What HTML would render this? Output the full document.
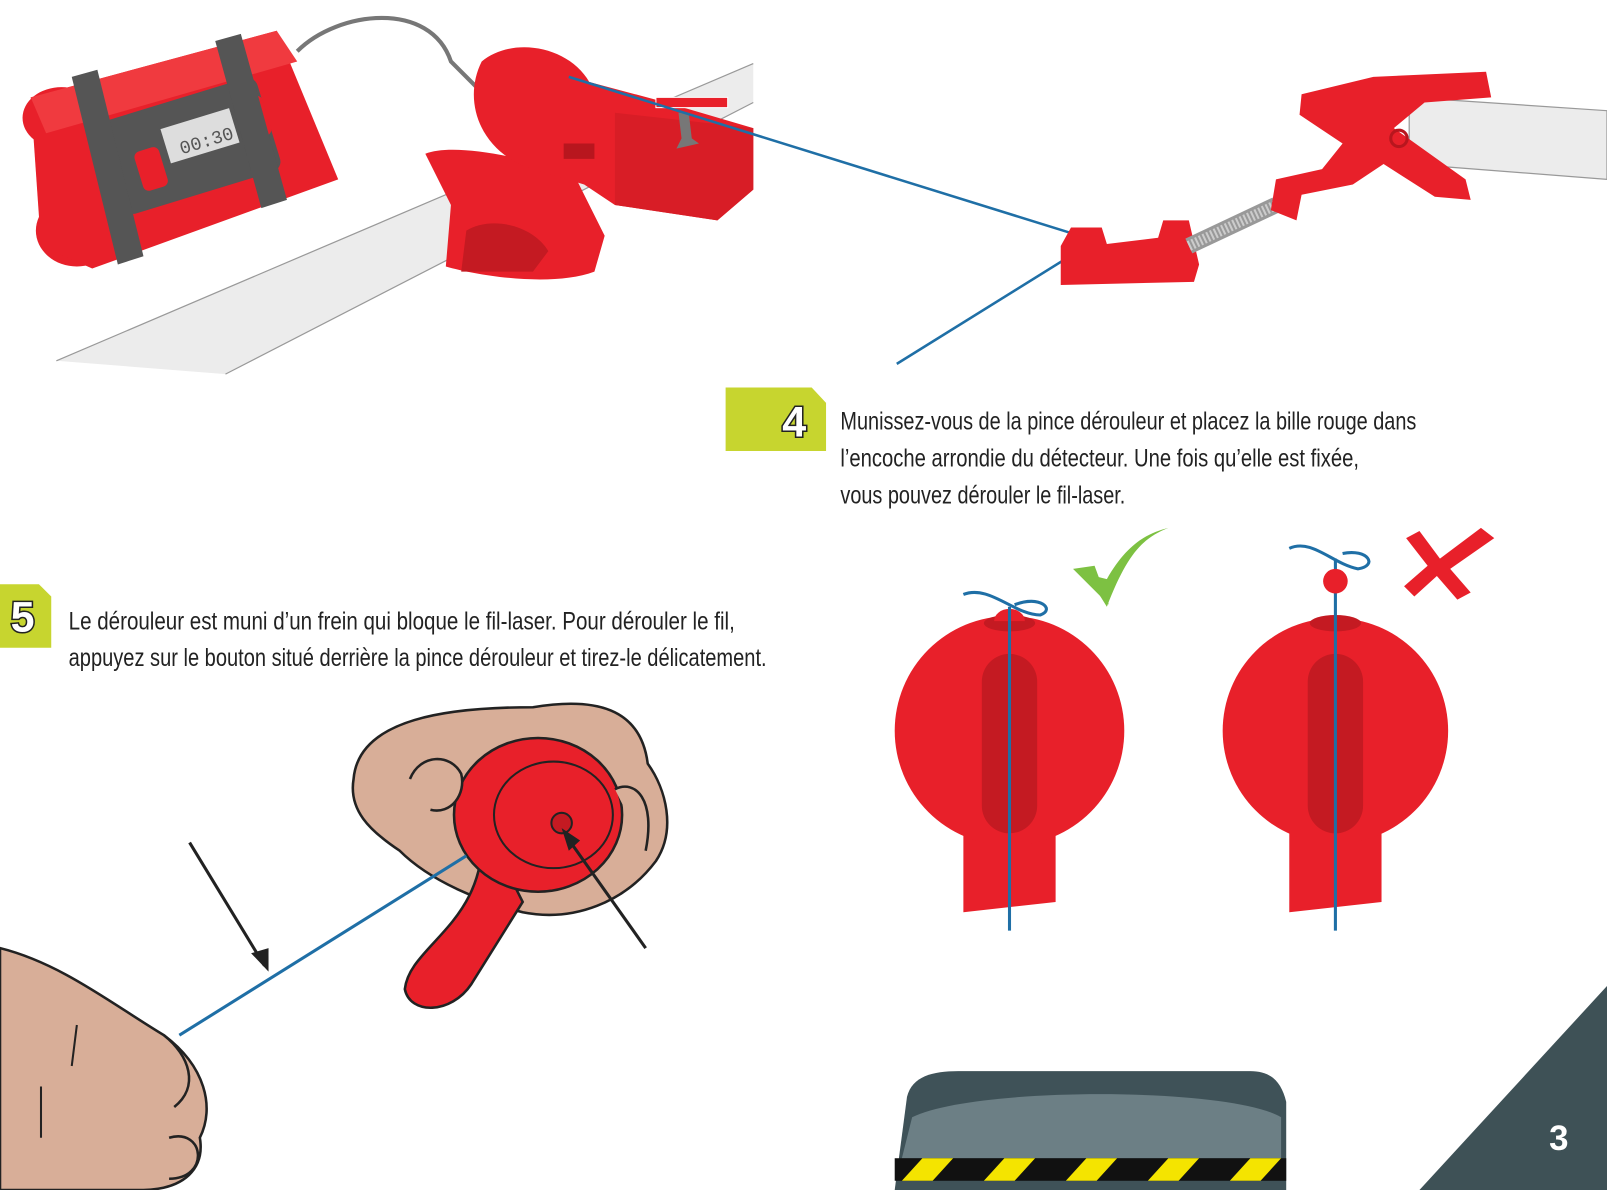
<!DOCTYPE html>
<html><head><meta charset="utf-8"><style>
html,body{margin:0;padding:0;background:#fff;width:1607px;height:1190px;overflow:hidden}
svg{display:block}
.t{font-family:"Liberation Sans",sans-serif;font-size:24px;fill:#222}
</style></head><body>
<svg width="1607" height="1190" viewBox="0 0 1568 1161" preserveAspectRatio="none" xmlns="http://www.w3.org/2000/svg">
<rect width="1568" height="1161" fill="#fff"/>
<!-- bar top-left -->
<polygon points="55,352 735,62 735,100 220,365" fill="#ececec"/>
<line x1="55" y1="352" x2="735" y2="62" stroke="#999" stroke-width="1.2"/>
<line x1="220" y1="365" x2="735" y2="100" stroke="#999" stroke-width="1.2"/>
<!-- gray wire -->
<path d="M290,50 C330,10 420,0 440,60 L465,85" fill="none" stroke="#777" stroke-width="4"/>
<!-- dynamite -->
<g>
<ellipse cx="60" cy="115" rx="38" ry="30" fill="#e8202a"/>
<ellipse cx="80" cy="175" rx="38" ry="30" fill="#e8202a"/>
<ellipse cx="75" cy="225" rx="40" ry="35" fill="#e8202a"/>
<polygon points="30,95 270,30 330,175 90,262 40,240" fill="#e8202a"/>
<polygon points="30,95 270,30 290,60 45,130" fill="#f03a3f"/>
<rect x="105" y="95" width="160" height="95" rx="10" fill="#555" transform="rotate(-17 185 140)"/>
<rect x="160" y="115" width="70" height="35" fill="#ddd" transform="rotate(-17 195 132)"/>
<text x="175" y="145" font-family="Liberation Mono,monospace" font-size="18" fill="#555" transform="rotate(-17 195 140)">00:30</text>
<rect x="135" y="145" width="25" height="40" rx="6" fill="#e8202a" transform="rotate(-17 147 165)"/>
<rect x="236" y="95" width="25" height="40" rx="6" fill="#e8202a" transform="rotate(-17 248 115)"/>
<polygon points="70,75 95,68 140,250 115,258" fill="#555"/>
<polygon points="210,40 235,33 280,195 255,203" fill="#555"/>
</g>
<!-- detector & clip -->
<path d="M415,150 C440,140 500,150 560,170 L590,230 L580,265 C540,280 470,270 435,260 L440,200 Z" fill="#e8202a"/>
<path d="M455,225 C480,210 520,220 535,245 L520,265 L450,265 Z" fill="#c41a22"/>
<circle cx="482" cy="230" r="12" fill="#c41a22"/>
<path d="M470,60 C500,35 555,45 575,80 L650,100 L735,125 L735,185 L700,215 L600,200 L570,180 L520,165 C470,150 450,100 470,60 Z" fill="#e8202a"/>
<path d="M600,110 L735,125 L735,185 L700,215 L600,200 Z" fill="#d81d26"/>
<rect x="640" y="95" width="70" height="10" fill="#e8202a" stroke="#fff" stroke-width="1"/>
<path d="M662,110 L672,110 L675,135 L682,140 L660,145 L665,135 Z" fill="#777"/>
<rect x="550" y="140" width="30" height="15" fill="#b8161e"/>
<!-- blue wires -->
<line x1="555" y1="75" x2="1060" y2="232" stroke="#1f6fa6" stroke-width="2.5"/>
<line x1="875" y1="355" x2="1060" y2="240" stroke="#1f6fa6" stroke-width="2.5"/>
<!-- right clamp + bar -->
<polygon points="1375,95 1568,108 1568,175 1375,160" fill="#ececec" stroke="#999" stroke-width="1.2"/>
<path d="M1035,240 L1045,222 L1075,222 L1080,238 L1130,232 L1135,215 L1160,215 L1170,258 L1165,275 L1035,278 Z" fill="#e8202a"/>
<path d="M1160,240 L1245,200" stroke="#999" stroke-width="16"/>
<path d="M1160,240 L1245,200" stroke="#ccc" stroke-width="10" stroke-dasharray="2 2"/>
<path d="M1240,205 L1245,175 L1290,165 L1310,140 L1268,112 L1270,92 L1340,75 L1450,70 L1455,95 L1390,100 L1360,125 L1430,175 L1435,195 L1400,192 L1350,160 L1320,180 L1270,190 L1265,215 Z" fill="#e8202a"/>
<circle cx="1365" cy="135" r="8" fill="none" stroke="#b8161e" stroke-width="3"/>
<!-- step 4 -->
<polygon points="708,378 792,378 806,393 806,440 708,440" fill="#c7d52f"/>
<text x="775" y="426" text-anchor="middle" font-family="Liberation Sans,sans-serif" font-weight="bold" font-size="42" fill="#fff" stroke="#222" stroke-width="3" paint-order="stroke">4</text>
<text class="t" x="820" y="419" textLength="562" lengthAdjust="spacingAndGlyphs">Munissez-vous de la pince dérouleur et placez la bille rouge dans</text>
<text class="t" x="820" y="455" textLength="506" lengthAdjust="spacingAndGlyphs">l’encoche arrondie du détecteur. Une fois qu’elle est fixée,</text>
<text class="t" x="820" y="491" textLength="278" lengthAdjust="spacingAndGlyphs">vous pouvez dérouler le fil-laser.</text>
<!-- step 5 -->
<polygon points="0,570 38,570 50,582 50,632 0,632" fill="#c7d52f"/>
<text x="22" y="616" text-anchor="middle" font-family="Liberation Sans,sans-serif" font-weight="bold" font-size="42" fill="#fff" stroke="#222" stroke-width="3" paint-order="stroke">5</text>
<text class="t" x="67" y="614" textLength="650" lengthAdjust="spacingAndGlyphs">Le dérouleur est muni d’un frein qui bloque le fil-laser. Pour dérouler le fil,</text>
<text class="t" x="67" y="650" textLength="681" lengthAdjust="spacingAndGlyphs">appuyez sur le bouton situé derrière la pince dérouleur et tirez-le délicatement.</text>
<!-- balloons -->
<g>
<path d="M940,810 L940,890 L1030,880 L1030,810 Z" fill="#e8202a"/>
<circle cx="985" cy="713" r="112" fill="#e8202a"/>
<ellipse cx="985" cy="608" rx="25" ry="8" fill="#c41a22"/>
<rect x="958" y="638" width="54" height="175" rx="27" fill="#c41a22"/>
<path d="M970,606 A15,12 0 0 1 1000,606 Z" fill="#e8202a"/>
<line x1="985" y1="592" x2="985" y2="908" stroke="#1f6fa6" stroke-width="3"/>
<path d="M940,580 C965,570 990,600 1015,600 C1030,595 1015,580 990,590" fill="none" stroke="#1f6fa6" stroke-width="3"/>
<path d="M1060,560 L1080,592 C1100,540 1115,525 1140,515 C1120,520 1100,530 1080,565 Z" fill="#7dc142"/>
<path d="M1047,555 L1068,552 L1082,590 Z" fill="#7dc142"/>
</g>
<g>
<path d="M1258,810 L1258,890 L1348,880 L1348,810 Z" fill="#e8202a"/>
<circle cx="1303" cy="713" r="110" fill="#e8202a"/>
<ellipse cx="1303" cy="608" rx="25" ry="8" fill="#c41a22"/>
<rect x="1276" y="638" width="54" height="175" rx="27" fill="#c41a22"/>
<line x1="1303" y1="545" x2="1303" y2="908" stroke="#1f6fa6" stroke-width="3"/>
<circle cx="1303" cy="567" r="12" fill="#e8202a"/>
<path d="M1258,535 C1280,525 1300,550 1325,555 C1345,552 1335,535 1310,540" fill="none" stroke="#1f6fa6" stroke-width="3"/>
<path d="M1372,525 L1385,518 L1405,545 L1445,515 L1458,525 L1415,555 L1435,578 L1422,585 L1402,562 L1380,582 L1370,572 L1393,552 Z" fill="#e8202a"/>
</g>
<!-- hand holding reel -->
<path d="M345,760 C350,700 440,690 520,690 C580,680 625,690 632,745 C650,770 660,810 640,840 C610,880 560,900 510,890 C470,880 420,860 390,830 C360,810 340,790 345,760 Z" fill="#d8ae98" stroke="#222" stroke-width="2.5"/>
<path d="M470,800 C480,900 400,920 395,965 C400,990 440,990 460,960 L510,880 Z" fill="#e8202a" stroke="#222" stroke-width="2.5"/>
<ellipse cx="525" cy="795" rx="82" ry="75" fill="#e8202a" stroke="#222" stroke-width="2.5"/>
<ellipse cx="540" cy="795" rx="58" ry="52" fill="#e8202a" stroke="#222" stroke-width="2"/>
<circle cx="548" cy="803" r="10" fill="#c41a22" stroke="#222" stroke-width="2"/>
<path d="M400,760 C410,735 440,735 450,755 C455,775 440,795 420,790" fill="#d8ae98" stroke="#222" stroke-width="2.5"/>
<path d="M600,770 C620,760 640,780 630,830" fill="#d8ae98" stroke="#222" stroke-width="2.5"/>
<line x1="185" y1="822" x2="258" y2="942" stroke="#222" stroke-width="3"/>
<polygon points="262,948 245,930 262,925" fill="#222"/>
<line x1="630" y1="925" x2="552" y2="815" stroke="#222" stroke-width="3"/>
<polygon points="548,808 555,830 566,820" fill="#222"/>
<line x1="175" y1="1010" x2="455" y2="835" stroke="#1f6fa6" stroke-width="3"/>
<!-- left hand -->
<path d="M0,925 C60,940 110,980 160,1010 C200,1040 210,1080 195,1110 C200,1140 180,1160 140,1161 L0,1161 Z" fill="#d8ae98" stroke="#222" stroke-width="2.5"/>
<path d="M160,1010 C185,1030 195,1060 170,1080" fill="none" stroke="#222" stroke-width="2.5"/>
<path d="M165,1110 C200,1100 205,1150 165,1150" fill="none" stroke="#222" stroke-width="2.5"/>
<path d="M40,1060 L40,1110 M75,1000 L70,1040" stroke="#222" stroke-width="2"/>
<!-- device bottom -->
<path d="M873,1161 L885,1070 C890,1050 910,1045 935,1045 L1220,1045 C1240,1045 1250,1055 1255,1075 L1255,1161 Z" fill="#3f5258"/>
<path d="M890,1090 C950,1060 1200,1060 1250,1090 L1250,1130 L880,1130 Z" fill="#6c7f85"/>
<rect x="873" y="1130" width="382" height="22" fill="#111"/>
<g fill="#f4e400">
<polygon points="880,1152 900,1130 930,1130 910,1152"/>
<polygon points="960,1152 980,1130 1010,1130 990,1152"/>
<polygon points="1040,1152 1060,1130 1090,1130 1070,1152"/>
<polygon points="1120,1152 1140,1130 1170,1130 1150,1152"/>
<polygon points="1200,1152 1220,1130 1250,1130 1230,1152"/>
</g>
<!-- page corner -->
<polygon points="1385,1161 1568,962 1568,1161" fill="#3e5156"/>
<text x="1521" y="1122" text-anchor="middle" font-family="Liberation Sans,sans-serif" font-weight="bold" font-size="34" fill="#fff">3</text>
</svg>
</body></html>
